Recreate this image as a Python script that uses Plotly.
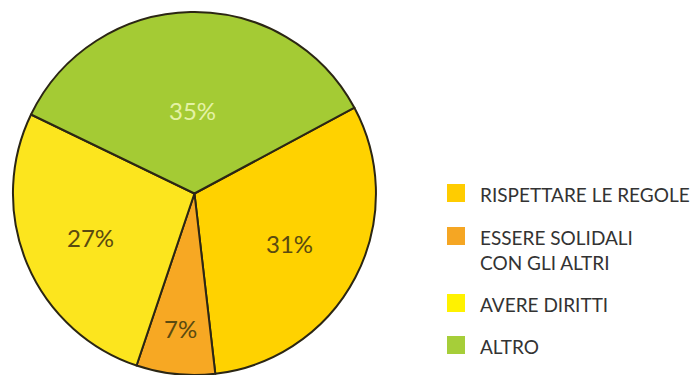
import math
import plotly.graph_objects as go

# Survey shares (percent)
categories = ["RISPETTARE LE REGOLE", "ESSERE SOLIDALI<br>CON GLI ALTRI", "AVERE DIRITTI", "ALTRO"]
values = [31, 7, 27, 35]
slice_colors = ["#FFD200", "#F7A823", "#FCE51E", "#A4CB34"]
legend_colors = ["#FFCC00", "#F5A623", "#FFF200", "#A6CE39"]
label_colors = ["#5A4A10", "#5A4A10", "#5A4A10", "#E4F2A6"]
label_radius = [0.59, 0.75, 0.62, 0.46]  # label distance from centre, as fraction of radius

W, H = 692, 375
start_angle = 61.8          # degrees clockwise from 12 o'clock
dom_x = [0.018, 0.544]
dom_y = [0.0, 0.968]

fig = go.Figure(go.Pie(
    labels=categories,
    values=values,
    sort=False,
    direction="clockwise",
    rotation=start_angle,
    marker=dict(colors=slice_colors, line=dict(color="#2B2614", width=2)),
    textinfo="none",
    hoverinfo="label+percent",
    showlegend=False,
    domain=dict(x=dom_x, y=dom_y),
))

# Percentage labels placed along each slice's bisector
total = sum(values)
cx = (dom_x[0] + dom_x[1]) / 2 * W
cy = (1 - (dom_y[0] + dom_y[1]) / 2) * H
radius = min((dom_x[1] - dom_x[0]) * W, (dom_y[1] - dom_y[0]) * H) / 2
angle = start_angle
annotations = []
for v, col, fr in zip(values, label_colors, label_radius):
    mid = math.radians(angle + v / total * 180)
    angle += v / total * 360
    px = cx + fr * radius * math.sin(mid)
    py = cy - fr * radius * math.cos(mid)
    annotations.append(dict(
        x=px / W, y=1 - py / H, xref="paper", yref="paper",
        xanchor="center", yanchor="middle",
        text=f"{round(v / total * 100)}%", showarrow=False,
        font=dict(family="Lato", size=24, color=col),
    ))

# Legend: coloured squares with captions
legend_x = 447 / W
sq = 18
item_y = [193, 236, 303, 345]
shapes = []
for name, col, yc in zip(categories, legend_colors, item_y):
    shapes.append(dict(
        type="rect", xref="paper", yref="paper", layer="above",
        x0=legend_x, x1=legend_x + sq / W,
        y0=1 - (yc + sq / 2) / H, y1=1 - (yc - sq / 2) / H,
        fillcolor=col, line=dict(width=0),
    ))
    annotations.append(dict(
        x=478 / W, y=1 - (yc - 12) / H, xref="paper", yref="paper",
        xanchor="left", yanchor="top", align="left",
        text=name, showarrow=False,
        font=dict(family="Lato", size=19, color="#333333"),
    ))

fig.update_layout(
    width=W, height=H,
    margin=dict(l=0, r=0, t=0, b=0),
    paper_bgcolor="white",
    plot_bgcolor="white",
    shapes=shapes,
    annotations=annotations,
)

fig.write_html("out.html")
